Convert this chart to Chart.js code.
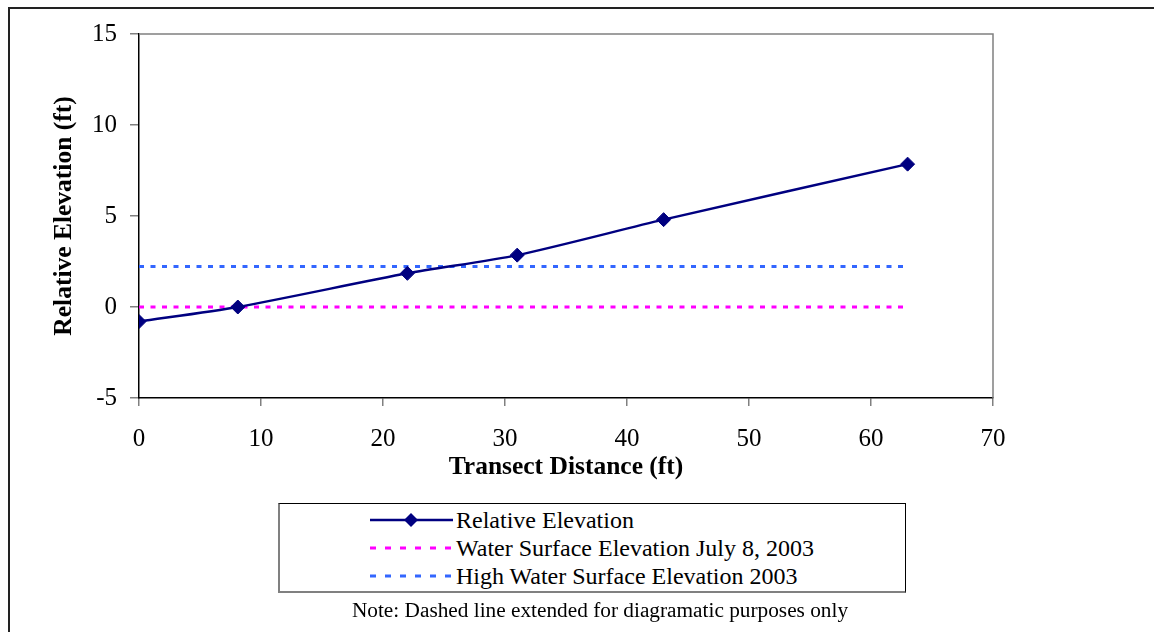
<!DOCTYPE html>
<html>
<head>
<meta charset="utf-8">
<script src="https://cdn.jsdelivr.net/npm/chart.js@4"></script>
<style>
    html, body { margin: 0; padding: 0; background: #fff; }
    body { width: 1154px; height: 632px; position: relative; overflow: hidden; font-family: 'Liberation Serif', 'Times New Roman', serif; }
    #frame { position: absolute; left: 8px; top: 7px; width: 1300px; height: 800px; border-top: 2px solid #222; border-left: 2px solid #222; }
    #wrap { position: absolute; left: 0; top: 0; width: 1154px; height: 632px; }
    #legendBox { position: absolute; left: 278px; top: 503px; width: 625px; height: 87px; border-top: 1.5px solid #000; border-right: 1.5px solid #000; border-left: 2px solid #808080; border-bottom: 2px solid #808080; background: #fff; }
    .row { position: absolute; left: 0; height: 28px; width: 100%; }
    .row svg { position: absolute; left: 90px; top: 0; }
    .row span { position: absolute; left: 176px; top: 0; line-height: 28px; font-size: 24px; color: #000; white-space: nowrap; }
    #note { position: absolute; left: 0; width: 1200px; top: 598px; text-align: center; font-size: 21.3px; line-height: 24px; color: #000; white-space: nowrap; }
</style>
</head>
<body>
<div id="frame"></div>
<div id="wrap"><canvas id="elevChart" width="1154" height="632"></canvas></div>
<div id="legendBox">
    <div class="row" style="top:2px">
        <svg width="84" height="28"><line x1="0" y1="14" x2="83" y2="14" stroke="#000080" stroke-width="2.5"/><polygon points="41,7 48,14 41,21 34,14" fill="#000080"/></svg>
        <span>Relative Elevation</span>
    </div>
    <div class="row" style="top:30px">
        <svg width="84" height="28"><line x1="0" y1="14" x2="83" y2="14" stroke="#ff00ff" stroke-width="3" stroke-dasharray="6 9"/></svg>
        <span>Water Surface Elevation July 8, 2003</span>
    </div>
    <div class="row" style="top:58px">
        <svg width="84" height="28"><line x1="0" y1="14" x2="83" y2="14" stroke="#3366ff" stroke-width="3" stroke-dasharray="6 9"/></svg>
        <span>High Water Surface Elevation 2003</span>
    </div>
</div>
<div id="note">Note: Dashed line extended for diagramatic purposes only</div>
<script>
// transect survey points
const distance = [0, 8.1, 22, 31, 43, 63];
const elevation = [-0.8, 0, 1.85, 2.85, 4.8, 7.85];

// dashed reference lines (extended)
const refLineX = [0, 63];
const waterJulyY = [0, 0];
const highWaterY = [2.23, 2.23];

const xTickValues = [0, 10, 20, 30, 40, 50, 60, 70];
const yTickValues = [-5, 0, 5, 10, 15];

const toPoints = (xs, ys) => xs.map((x, i) => ({ x: x, y: ys[i] }));

// top and right edges of plot area in grey
const plotFrame = {
    id: 'plotFrame',
    afterDraw(chart) {
        const { ctx, chartArea: a } = chart;
        ctx.save();
        ctx.strokeStyle = '#808080';
        ctx.lineWidth = 1.5;
        ctx.beginPath();
        ctx.moveTo(a.left, a.top);
        ctx.lineTo(a.right, a.top);
        ctx.lineTo(a.right, a.bottom);
        ctx.stroke();
        ctx.restore();
    }
};

const serif = "'Liberation Serif', 'Times New Roman', serif";

new Chart(document.getElementById('elevChart'), {
    type: 'line',
    data: {
        datasets: [
            {
                label: 'Water Surface Elevation July 8, 2003',
                data: toPoints(refLineX, waterJulyY),
                borderColor: '#ff00ff',
                borderWidth: 3,
                borderDash: [5, 6.5],
                pointRadius: 0,
                order: 2
            },
            {
                label: 'High Water Surface Elevation 2003',
                data: toPoints(refLineX, highWaterY),
                borderColor: '#3366ff',
                borderWidth: 3,
                borderDash: [5, 6.5],
                pointRadius: 0,
                order: 1
            },
            {
                label: 'Relative Elevation',
                data: toPoints(distance, elevation),
                borderColor: '#000080',
                backgroundColor: '#000080',
                borderWidth: 2.5,
                tension: 0.25,
                pointStyle: 'rectRot',
                pointRadius: 7,
                pointBorderWidth: 1,
                pointBackgroundColor: '#000080',
                pointBorderColor: '#000080',
                order: 0
            }
        ]
    },
    options: {
        responsive: false,
        animation: false,
        layout: { padding: { left: 20, top: 34, right: 161, bottom: 148 } },
        plugins: {
            legend: { display: false },
            tooltip: { enabled: false }
        },
        scales: {
            x: {
                type: 'linear',
                min: 0,
                max: 70,
                afterBuildTicks: s => { s.ticks = xTickValues.map(v => ({ value: v })); },
                afterFit: s => { s.height = 86; },
                grid: { drawOnChartArea: false, tickLength: 8, color: '#808080', lineWidth: 1.5 },
                border: { color: '#000', width: 1.5 },
                ticks: { color: '#000', font: { family: serif, size: 25 }, padding: 18, maxRotation: 0 },
                title: {
                    display: true,
                    text: 'Transect Distance (ft)',
                    color: '#000',
                    font: { family: serif, size: 25.5, weight: 'bold' },
                    padding: { top: 0, bottom: 1 }
                }
            },
            y: {
                type: 'linear',
                min: -5,
                max: 15,
                afterBuildTicks: s => { s.ticks = yTickValues.map(v => ({ value: v })); },
                afterFit: s => { s.width = 119; },
                grid: { drawOnChartArea: false, tickLength: 9, color: '#808080', lineWidth: 1.5 },
                border: { color: '#000', width: 1.5 },
                ticks: { color: '#000', font: { family: serif, size: 25 }, padding: 13 },
                title: {
                    display: true,
                    text: 'Relative Elevation (ft)',
                    color: '#000',
                    font: { family: serif, size: 25.5, weight: 'bold' },
                    padding: { top: 29, bottom: 0 }
                }
            }
        }
    },
    plugins: [plotFrame]
});
</script>
</body>
</html>
